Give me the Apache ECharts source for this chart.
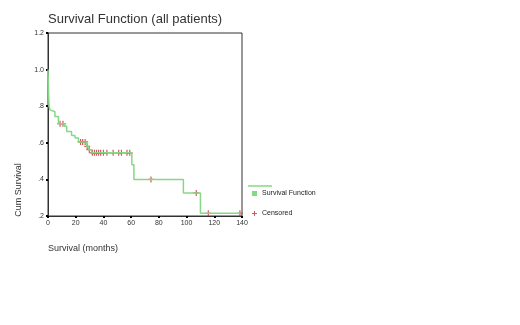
<!DOCTYPE html>
<html>
<head>
<meta charset="utf-8">
<script src="https://cdn.jsdelivr.net/npm/echarts@6/dist/echarts.min.js"></script>
<style>
  html, body { margin: 0; padding: 0; background: #fff; }
  #chart { width: 520px; height: 325px; }
</style>
</head>
<body>
<div id="chart"></div>
<script>
// step curve: time of each drop and survival after it
var stepTimes = [0, 0.7, 1.5, 2.5, 5, 7.5, 12, 13.5, 17, 19.5, 22, 28, 29.5, 31.5, 60.5, 62, 97.7, 110, 139];
var stepSurv  = [1.0, 0.80, 0.78, 0.77, 0.744, 0.704, 0.69, 0.662, 0.64, 0.626, 0.605, 0.58, 0.562, 0.545, 0.48, 0.40, 0.326, 0.215, 0.215];

// censored cases
var censTimes = [8.7, 10.8, 23.5, 25, 26.8, 28.3, 29.8, 32, 33.5, 35, 36.5, 38, 40, 42.5, 47, 51, 53, 57, 59, 74.3, 107, 115.7, 138.5];
var censSurv  = [0.704, 0.704, 0.605, 0.605, 0.605, 0.58, 0.562, 0.545, 0.545, 0.545, 0.545, 0.545, 0.545, 0.545, 0.545, 0.545, 0.545, 0.545, 0.545, 0.40, 0.326, 0.215, 0.215];

var xTicks = { min: 0, max: 140, step: 20 };
var yTicks = { min: 0.2, max: 1.2, step: 0.2 };

var plus = 'path://M2,0H3V2H5V3H3V5H2V3H0V2H2Z';
var font = 'Liberation Sans, Arial, sans-serif';

var myChart = echarts.init(document.getElementById('chart'));

myChart.setOption({
    backgroundColor: '#fff',
    animation: false,
    title: {
        text: 'Survival Function (all patients)',
        left: 43, top: 8,
        textStyle: { fontFamily: font, fontSize: 13, fontWeight: 'normal', color: '#333' }
    },
    grid: {
        left: 48, top: 33, width: 194, height: 183,
        show: true, borderColor: '#333', borderWidth: 1
    },
    legend: {
        orient: 'vertical',
        left: 247, top: 185,
        itemWidth: 5, itemHeight: 5, itemGap: 13,
        textStyle: { fontFamily: font, fontSize: 7, color: '#222' },
        data: [
            { name: 'Survival Function', icon: 'rect', itemStyle: { color: '#86d886' } },
            { name: 'Censored', icon: plus, itemStyle: { color: '#c8303a' } }
        ]
    },
    xAxis: {
        type: 'value',
        min: xTicks.min, max: xTicks.max, interval: xTicks.step,
        axisLine: { lineStyle: { color: '#333' } },
        axisTick: { length: 2, lineStyle: { color: '#000', width: 2 } },
        axisLabel: { fontFamily: font, fontSize: 7, color: '#333', margin: 4 },
        splitLine: { show: false }
    },
    yAxis: {
        type: 'value',
        min: yTicks.min, max: yTicks.max, interval: yTicks.step,
        axisLine: { show: true, lineStyle: { color: '#333' } },
        axisTick: { show: true, length: 2, lineStyle: { color: '#000', width: 2 } },
        axisLabel: {
            fontFamily: font, fontSize: 7, color: '#333', margin: 4,
            formatter: function (v) { return v.toFixed(1).replace(/^0/, ''); }
        },
        splitLine: { show: false }
    },
    graphic: [
        { type: 'line', shape: { x1: 248, y1: 186, x2: 272, y2: 186 },
          style: { stroke: '#86d886', lineWidth: 1.5 } },
        { type: 'text', left: 48, top: 244,
          style: { text: 'Survival (months)', fontFamily: font, fontSize: 9, fill: '#333' } },
        { type: 'text', x: 19, y: 190, rotation: Math.PI / 2,
          style: { text: 'Cum Survival', fontFamily: font, fontSize: 9, fill: '#333',
                   align: 'center', verticalAlign: 'middle' } }
    ],
    series: [
        {
            name: 'Survival Function',
            type: 'line',
            step: 'end',
            symbol: 'none',
            lineStyle: { color: '#86d886', width: 1.5 },
            itemStyle: { color: '#86d886' },
            data: stepTimes.map(function (t, i) { return [t, stepSurv[i]]; })
        },
        {
            name: 'Censored',
            type: 'scatter',
            symbol: plus,
            symbolSize: 6,
            itemStyle: { color: '#c8303a' },
            data: censTimes.map(function (t, i) { return [t, censSurv[i]]; })
        }
    ]
});
</script>
</body>
</html>
